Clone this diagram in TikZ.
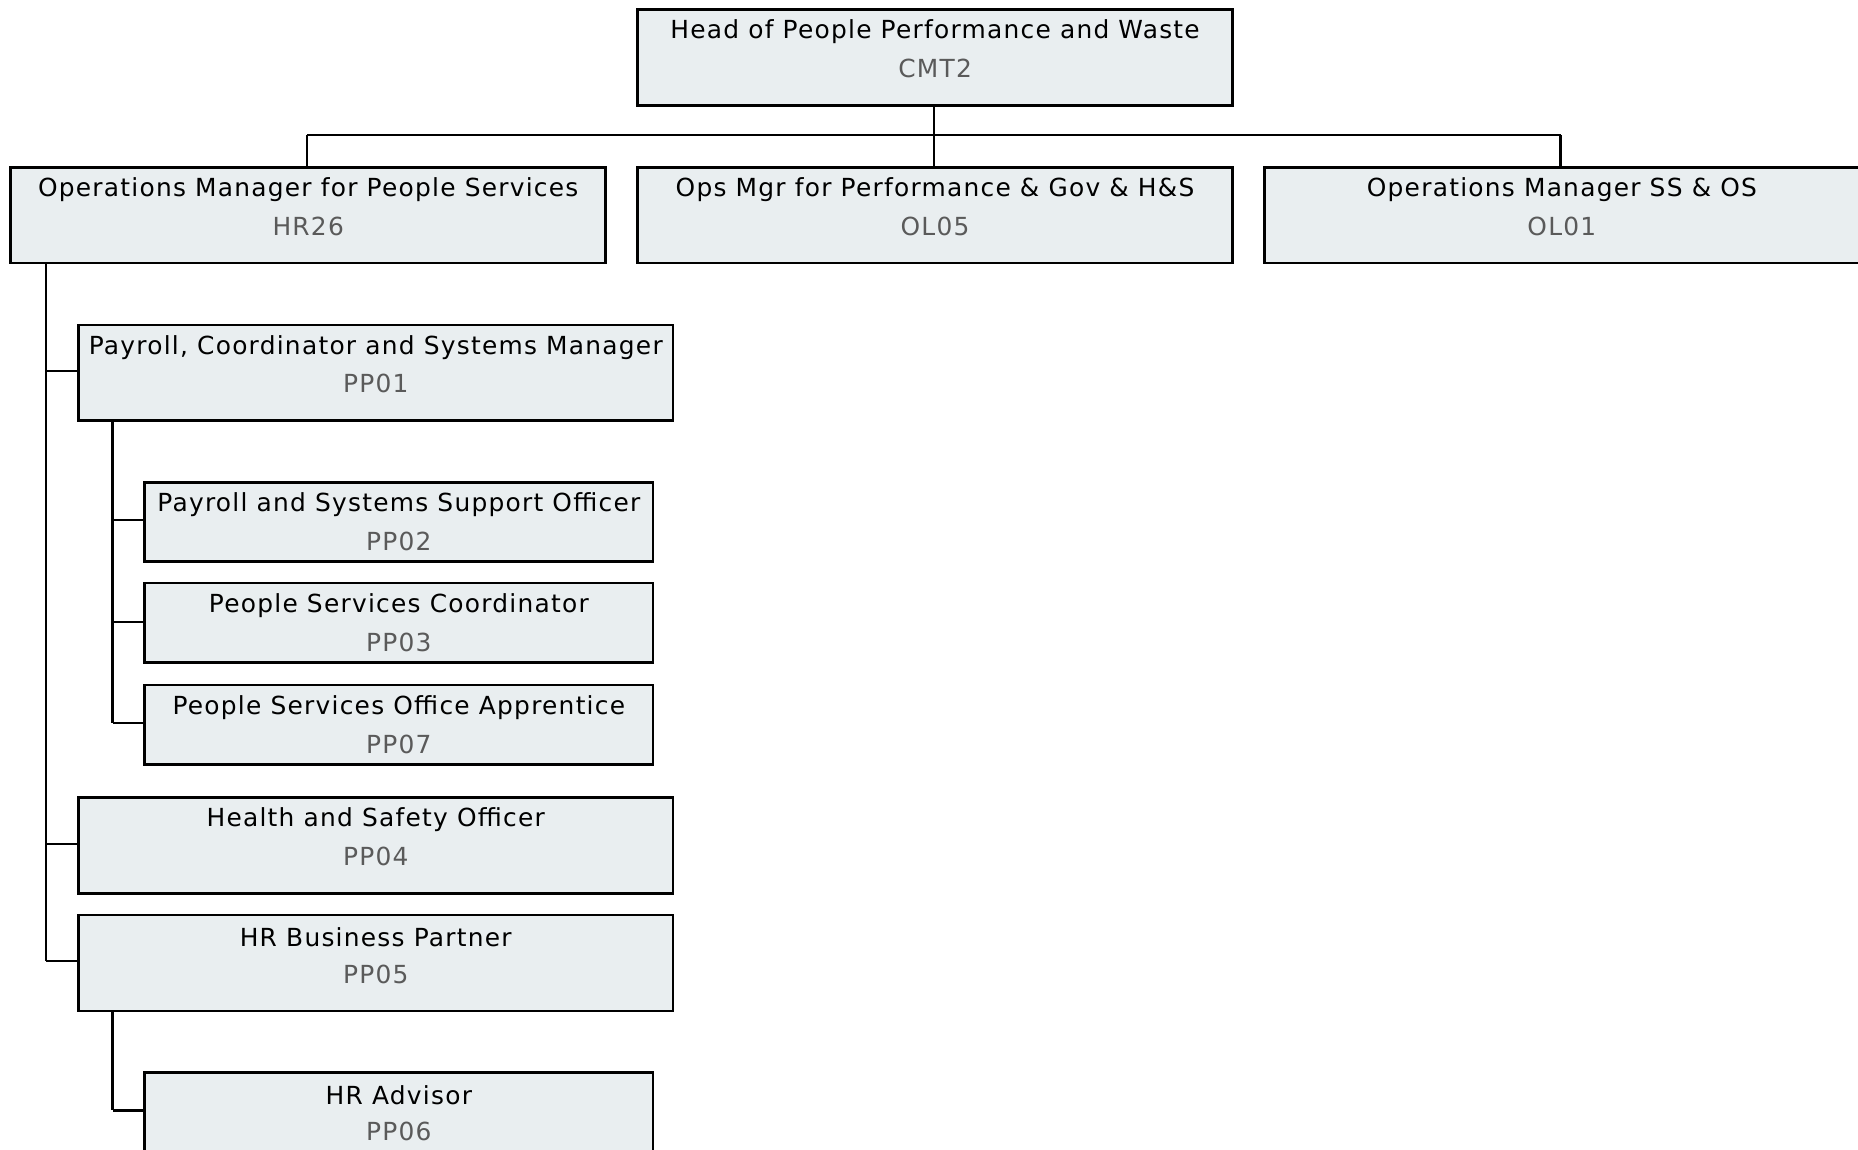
\documentclass[tikz,border=0pt]{standalone}
\usepackage{fontspec}
\setmainfont{DejaVu Sans}[LetterSpace=5]
\usetikzlibrary{calc}
\definecolor{boxfill}{HTML}{E9EEF0}
\definecolor{codegray}{HTML}{5A5A5A}
\tikzset{
  box/.style={draw=black, line width=2.2pt, fill=boxfill, rectangle, anchor=north west, inner sep=0pt},
  bigbox/.style={box, minimum width=502pt, minimum height=81pt},
  smallbox/.style={box, minimum width=429pt, minimum height=67pt},
  ttl/.style={font=\fontsize{21}{23}\selectfont, text=black, inner sep=0pt},
  code/.style={font=\fontsize{21}{23}\selectfont, text=codegray, inner sep=0pt},
  conn/.style={draw=black, line width=2pt},
}
\newcommand{\orgbox}[6]{%
  \node[#1] (#2) at (#3,#4) {};
  \node[ttl] (#2t) at ($(#2.north)+(0,20)$) {#5};
  \node[code] (#2c) at ($(#2.north)+(0,51)$) {#6};
}
\begin{document}
\begin{tikzpicture}[x=1pt,y=-1pt]
\clip (0,0) rectangle (1568,970);
\fill[white] (0,0) rectangle (1568,970);
% connectors first
\coordinate (hb) at (788,114);
\coordinate (lb) at (259,114);
\coordinate (rb) at (1317,114);
\coordinate (t1a) at (39,221);
\coordinate (t1b) at (39,811);
\coordinate (t2a) at (95,353);
\coordinate (t2b) at (95,610);
\coordinate (t3a) at (95,851);
\coordinate (t3b) at (95,937);
\draw[conn] (788,88) -- (hb);
\draw[conn] (lb) -- (rb);
\draw[conn] (lb) -- (259,140);
\draw[conn] (hb) -- (788,140);
\draw[conn] (rb) -- (1317,140);
\draw[conn] (t1a) -- (t1b);
\draw[conn] (t2a) -- (t2b);
\draw[conn] (t3a) -- (t3b);
\draw[conn] (39,313) -- (65,313);
\draw[conn] (39,712) -- (65,712);
\draw[conn] (t1b) -- (65,811);
\draw[conn] (95,439) -- (121,439);
\draw[conn] (95,525) -- (121,525);
\draw[conn] (t2b) -- (121,610);
\draw[conn] (t3b) -- (121,937);
% boxes
\orgbox{bigbox}{head}{537}{7}{Head of People Performance and Waste}{CMT2}
\orgbox{bigbox}{hr26}{8}{140}{Operations Manager for People Services}{HR26}
\orgbox{bigbox}{ol05}{537}{140}{Ops Mgr for Performance \& Gov \& H\&S}{OL05}
\orgbox{bigbox}{ol01}{1066}{140}{Operations Manager SS \& OS}{OL01}
\orgbox{bigbox}{pp01}{65}{273}{Payroll, Coordinator and Systems Manager}{PP01}
\orgbox{smallbox}{pp02}{121}{406}{Payroll and Systems Support Officer}{PP02}
\orgbox{smallbox}{pp03}{121}{491}{People Services Coordinator}{PP03}
\orgbox{smallbox}{pp07}{121}{577}{People Services Office Apprentice}{PP07}
\orgbox{bigbox}{pp04}{65}{672}{Health and Safety Officer}{PP04}
\orgbox{bigbox}{pp05}{65}{771}{HR Business Partner}{PP05}
\orgbox{smallbox}{pp06}{121}{904}{HR Advisor}{PP06}
\end{tikzpicture}
\end{document}
